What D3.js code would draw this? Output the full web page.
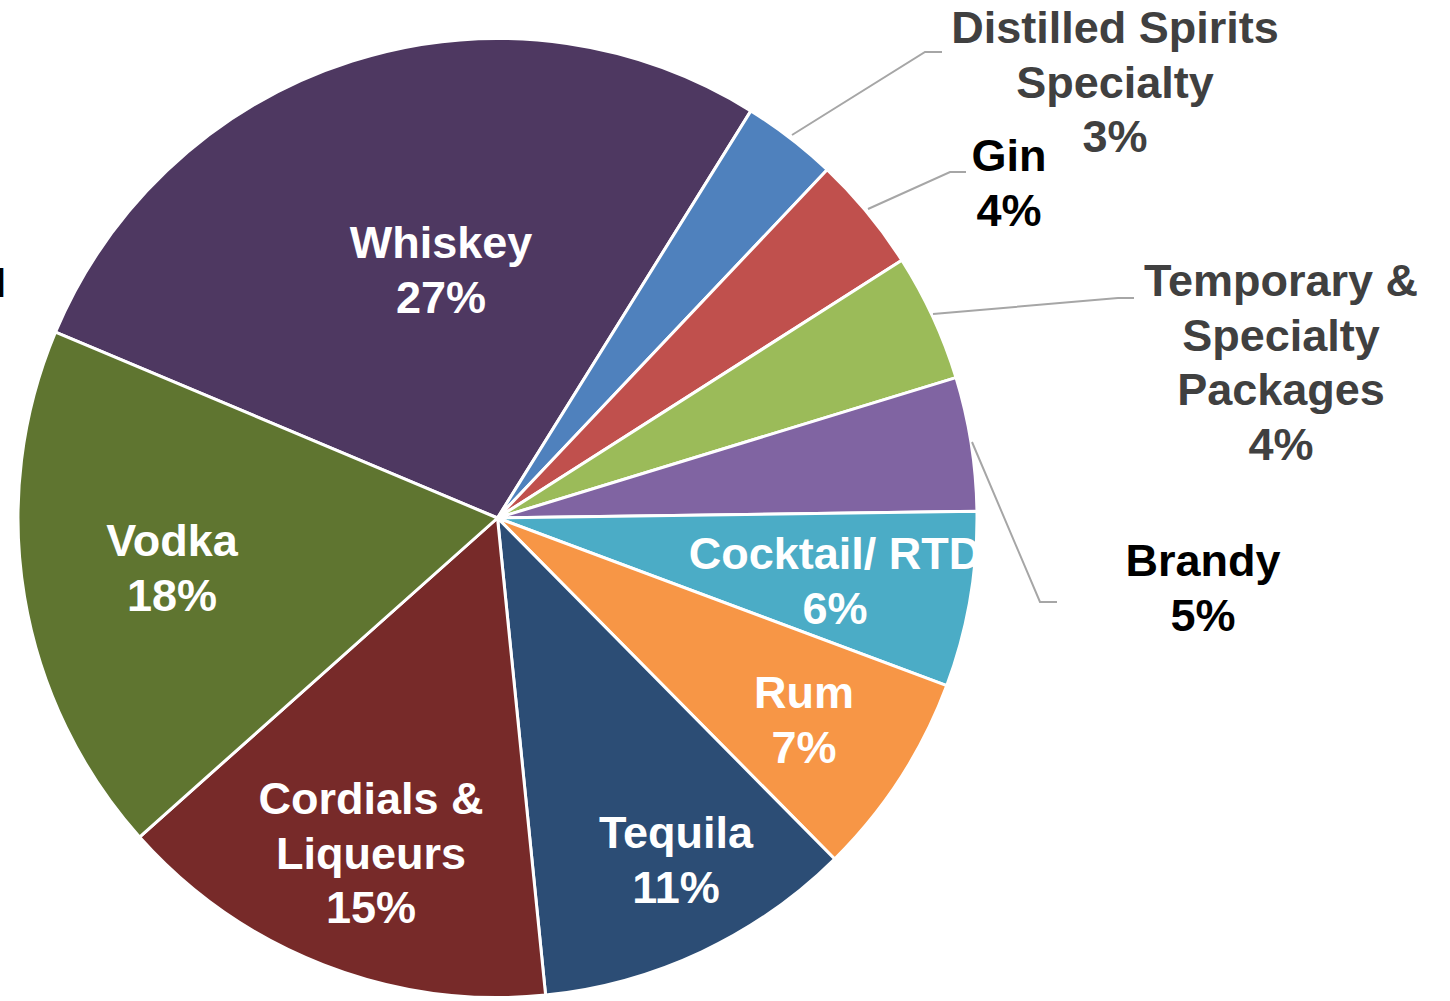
<!DOCTYPE html>
<html>
<head>
<meta charset="utf-8">
<script src="https://cdn.jsdelivr.net/npm/d3@7"></script>
<style>
  html, body { margin: 0; padding: 0; background: #fff; }
  svg { display: block; }
  text { font-family: "Liberation Sans", Arial, sans-serif; font-weight: bold; }
</style>
</head>
<body>
<svg id="chart" width="1450" height="1001"></svg>
<script>
// ---- data ----
const categories = ["Whiskey", "Distilled Spirits Specialty", "Gin", "Temporary & Specialty Packages",
  "Brandy", "Cocktail/ RTD", "Rum", "Tequila", "Cordials & Liqueurs", "Vodka"];
const shares = [27.5, 3.2, 3.9, 4.3, 4.5, 5.9, 6.9, 10.8, 15.0, 17.9];
const percentLabels = ["27%", "3%", "4%", "4%", "5%", "6%", "7%", "11%", "15%", "18%"];
const labelLines = [["Whiskey"], ["Distilled Spirits", "Specialty"], ["Gin"], ["Temporary &", "Specialty", "Packages"],
  ["Brandy"], ["Cocktail/ RTD"], ["Rum"], ["Tequila"], ["Cordials &", "Liqueurs"], ["Vodka"]];

// ---- styling / layout ----
const colors = ["#4E3861", "#4F81BD", "#C0504D", "#9BBB59", "#8064A2", "#4BACC6", "#F79646", "#2C4D75", "#772A29", "#5F7530"];
const textColors = ["#fff", "#404040", "#000", "#404040", "#000", "#fff", "#fff", "#fff", "#fff", "#fff"];
// label block anchor: center x, center y of first line
const labelPos = [[441, 242], [1115, 27], [1009, 155], [1281, 280], [1203, 560], [835, 553], [804, 692], [676, 832], [371, 798], [172, 540]];
// leader lines for outside labels
const leaders = {
  1: [[792, 135], [925, 52], [942, 52]],
  2: [[868, 209], [950, 172], [966, 172]],
  3: [[933, 314], [1118, 298], [1134, 298]],
  4: [[972, 442], [1040, 602], [1057, 602]]
};

const cx = 497.5, cy = 518, R = 479.5;
const fontSize = 45, lineH = 54.5;

const svg = d3.select("#chart");

// clipped title glyph at left edge
svg.append("text").attr("x", 6).attr("y", 297).attr("text-anchor", "end")
  .attr("font-size", 42).attr("fill", "#000").text("N");

const startA = -67.2 * Math.PI / 180;
const pie = d3.pie().sort(null).value(d => d)
  .startAngle(startA).endAngle(startA + 2 * Math.PI);
const arcs = pie(shares);
const arc = d3.arc().innerRadius(0).outerRadius(R);

const g = svg.append("g").attr("transform", `translate(${cx},${cy})`);
g.selectAll("path").data(arcs).join("path")
  .attr("d", arc)
  .attr("fill", (d, i) => colors[i])
  .attr("stroke", "#fff")
  .attr("stroke-width", 3)
  .attr("stroke-linejoin", "round");

// leader lines
const line = d3.line();
Object.entries(leaders).forEach(([i, pts]) => {
  svg.append("path").attr("d", line(pts))
    .attr("fill", "none").attr("stroke", "#A6A6A6").attr("stroke-width", 2);
});

// labels
categories.forEach((c, i) => {
  const lines = labelLines[i].concat([percentLabels[i]]);
  const [x, y0] = labelPos[i];
  const t = svg.append("text")
    .attr("text-anchor", "middle")
    .attr("font-size", fontSize)
    .attr("fill", textColors[i]);
  lines.forEach((s, k) => {
    t.append("tspan").attr("x", x).attr("y", y0 + k * lineH + fontSize * 0.36).text(s);
  });
});
</script>
</body>
</html>
